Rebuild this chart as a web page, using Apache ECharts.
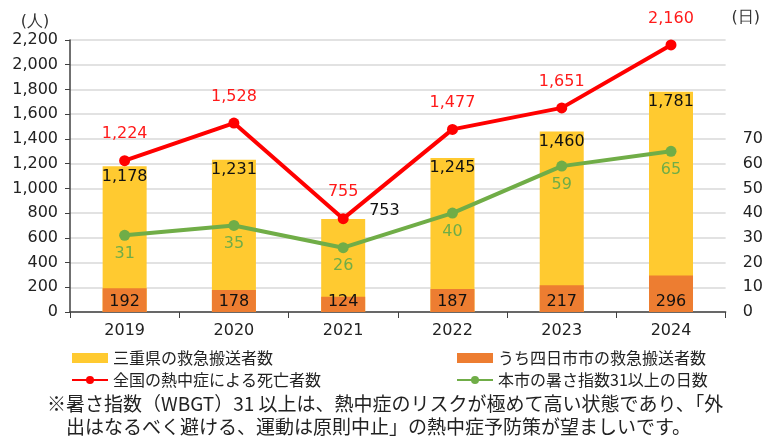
<!DOCTYPE html>
<html>
<head>
<meta charset="utf-8">
<script src="https://cdn.jsdelivr.net/npm/echarts@6/dist/echarts.min.js"></script>
<style>
  html, body { margin: 0; padding: 0; background: #fff; }
  #chart { width: 766px; height: 443px; }
</style>
</head>
<body>
<div id="chart"></div>
<script>
// 年
const years = ['2019', '2020', '2021', '2022', '2023', '2024']
// 三重県の救急搬送者数
const mieTransport = [1178, 1231, 753, 1245, 1460, 1781]
// うち四日市市の救急搬送者数
const yokkaichiTransport = [192, 178, 124, 187, 217, 296]
// 全国の熱中症による死亡者数
const nationalDeaths = [1224, 1528, 755, 1477, 1651, 2160]
// 本市の暑さ指数31以上の日数
const hotDays = [31, 35, 26, 40, 59, 65]

const numFont = '"DejaVu Sans", Verdana, sans-serif'
const jpFont = '"Noto Sans CJK JP", sans-serif'
const fmt = v => String(v).replace(/\B(?=(\d{3})+(?!\d))/g, ',')

const chart = echarts.init(document.getElementById('chart'))

// 2021年だけラベルを棒の右側へ
const mieData = mieTransport.map((v, i) => {
  if (i === 2) {
    return { value: v, label: { position: [48, -8], align: 'left', verticalAlign: 'middle' } }
  }
  return v
})

const option = {
  animation: false,
  textStyle: { fontFamily: numFont },
  grid: { left: 70, right: 39, top: 40, bottom: 131 },
  legend: [
    {
      orient: 'vertical',
      left: 66, top: 345,
      itemGap: 6,
      itemWidth: 36, itemHeight: 10,
      textStyle: { fontFamily: jpFont, fontSize: 16, color: '#222' },
      data: [
        { name: '三重県の救急搬送者数', icon: 'rect' },
        { name: '全国の熱中症による死亡者数' }
      ]
    },
    {
      orient: 'vertical',
      left: 451, top: 345,
      itemGap: 6,
      itemWidth: 36, itemHeight: 10,
      textStyle: { fontFamily: jpFont, fontSize: 16, color: '#222' },
      data: [
        { name: 'うち四日市市の救急搬送者数', icon: 'rect' },
        { name: '本市の暑さ指数31以上の日数' }
      ]
    }
  ],
  xAxis: {
    type: 'category',
    data: years,
    axisLine: { lineStyle: { color: '#404040', width: 1.5 } },
    axisTick: { show: true, length: 6, lineStyle: { color: '#404040' } },
    axisLabel: { fontSize: 16, color: '#222', margin: 11, fontFamily: numFont }
  },
  yAxis: [
    {
      type: 'value',
      min: 0, max: 2200, interval: 200,
      name: '(人)',
      nameGap: 10,
      nameTextStyle: { fontSize: 16, color: '#333', fontFamily: numFont, padding: [0, 70, 0, 0] },
      axisLine: { show: true, lineStyle: { color: '#404040', width: 1.5 } },
      axisTick: { show: true, length: 5, lineStyle: { color: '#404040' } },
      axisLabel: { fontSize: 16, color: '#222', margin: 12, formatter: fmt },
      splitLine: { lineStyle: { color: '#d9d9d9', width: 1.5 } }
    },
    {
      type: 'value',
      min: 0, max: 110, interval: 10,
      name: '(日)',
      nameGap: 14,
      nameTextStyle: { fontSize: 16, color: '#333', fontFamily: numFont, padding: [0, 0, 0, 40] },
      axisLine: { show: false },
      axisTick: { show: false },
      axisLabel: { fontSize: 16, color: '#222', margin: 17, formatter: v => (v <= 70 ? v : '') },
      splitLine: { show: false }
    }
  ],
  series: [
    {
      name: '三重県の救急搬送者数',
      type: 'bar',
      barWidth: 44,
      barGap: '-100%',
      itemStyle: { color: '#FFCA30' },
      label: {
        show: true, position: 'insideTop', distance: 2,
        fontSize: 16, color: '#111', formatter: p => fmt(p.value)
      },
      data: mieData
    },
    {
      name: 'うち四日市市の救急搬送者数',
      type: 'bar',
      barWidth: 44,
      barGap: '-100%',
      itemStyle: { color: '#ED7D31' },
      label: {
        show: true, position: 'insideBottom', distance: 2,
        fontSize: 16, color: '#111'
      },
      data: yokkaichiTransport
    },
    {
      name: '全国の熱中症による死亡者数',
      type: 'line',
      yAxisIndex: 0,
      symbol: 'circle',
      symbolSize: 11,
      lineStyle: { color: '#FF0000', width: 4 },
      itemStyle: { color: '#FF0000' },
      label: {
        show: true, position: 'top', distance: 13,
        fontSize: 16, color: '#FF1A1A', formatter: p => fmt(p.value)
      },
      z: 5,
      data: nationalDeaths
    },
    {
      name: '本市の暑さ指数31以上の日数',
      type: 'line',
      yAxisIndex: 1,
      symbol: 'circle',
      symbolSize: 11,
      lineStyle: { color: '#70AD47', width: 4 },
      itemStyle: { color: '#70AD47' },
      label: {
        show: true, position: 'bottom', distance: 5,
        fontSize: 16, color: '#70AD47'
      },
      z: 4,
      data: hotDays
    }
  ],
  graphic: [
    {
      type: 'text',
      left: 47, top: 394,
      style: {
        text: '※暑さ指数（WBGT）31 以上は、熱中症のリスクが極めて高い状態であり、「外',
        font: '19px "Noto Sans CJK JP", sans-serif',
        fill: '#222'
      }
    },
    {
      type: 'text',
      left: 66, top: 417,
      style: {
        text: '出はなるべく避ける、運動は原則中止」の熱中症予防策が望ましいです。',
        font: '19px "Noto Sans CJK JP", sans-serif',
        fill: '#222'
      }
    }
  ]
}

chart.setOption(option)
</script>
</body>
</html>
